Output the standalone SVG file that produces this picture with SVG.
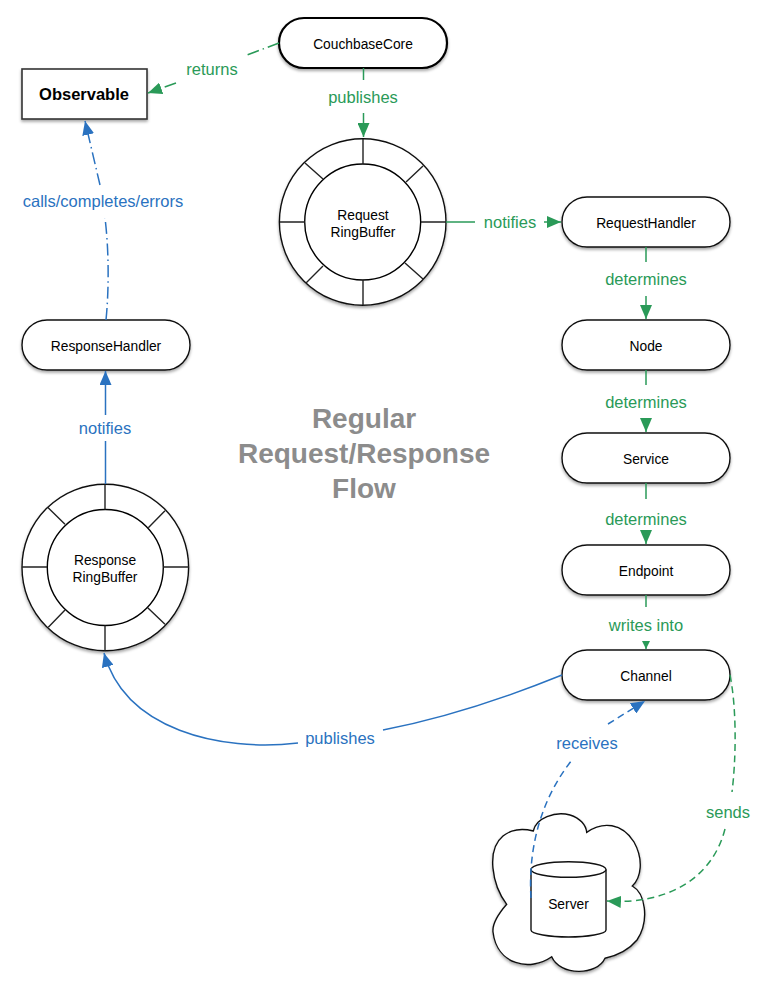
<svg xmlns="http://www.w3.org/2000/svg" width="772" height="1002" viewBox="0 0 772 1002">
<style>
text{font-family:"Liberation Sans",Arial,sans-serif;text-anchor:middle}
.n{fill:#fff;stroke:#111;stroke-width:1.4;filter:url(#sh)}
.l{fill:none;stroke:#222;stroke-width:1.4}
.t{font-size:13.8px;fill:#000}
.lb{font-size:16.5px}
.g{fill:#2a9a58}.b{fill:#2a72c0}
.cg{fill:none;stroke:#2a9a58;stroke-width:1.5}
.cb{fill:none;stroke:#2a72c0;stroke-width:1.5}
.dd{stroke-dasharray:12 4 1.5 4}
.da{stroke-dasharray:7 4.500}
</style>
<defs>
<filter id="sh" x="-10%" y="-10%" width="120%" height="125%"><feDropShadow dx="0" dy="2" stdDeviation="1.5" flood-color="#000" flood-opacity=".35"/></filter>
<marker id="ag" markerUnits="userSpaceOnUse" viewBox="0 0 14 12" markerWidth="14" markerHeight="12" refX="14" refY="6" orient="auto"><path d="M0 0L14 6L0 12z" fill="#2a9a58"/></marker>
<marker id="ab" markerUnits="userSpaceOnUse" viewBox="0 0 14 12" markerWidth="14" markerHeight="12" refX="14" refY="6" orient="auto"><path d="M0 0L14 6L0 12z" fill="#2a72c0"/></marker>
<marker id="as" markerUnits="userSpaceOnUse" viewBox="0 0 8 8" markerWidth="8" markerHeight="8" refX="8" refY="4" orient="auto"><path d="M0 0L8 4L0 8z" fill="#2a9a58"/></marker>
</defs>

<g id="edge-labels">
<text class="lb g" x="212" y="75">returns</text>
<text class="lb g" x="363" y="103">publishes</text>
<text class="lb b" x="103" y="207">calls/completes/errors</text>
<text class="lb g" x="510" y="228">notifies</text>
<text class="lb g" x="646" y="285">determines</text>
<text class="lb g" x="646" y="408">determines</text>
<text class="lb g" x="646" y="525">determines</text>
<text class="lb g" x="646" y="631">writes into</text>
<text class="lb g" x="728" y="818">sends</text>
<text class="lb b" x="587" y="749">receives</text>
<text class="lb b" x="340" y="744">publishes</text>
<text class="lb b" x="105" y="434">notifies</text>
</g>

<g id="title" font-weight="bold" font-size="28" fill="#8c8c8c">
<text x="364" y="428">Regular</text>
<text x="364" y="463">Request/Response</text>
<text x="364" y="498">Flow</text>
</g>

<g id="observable">
<rect class="n" x="22" y="69" width="125" height="50" style="stroke:#333;stroke-width:1.600"/>
<text x="84" y="100" font-size="16.500" font-weight="bold">Observable</text>
</g>
<g id="couchbasecore">
<rect class="n" x="279" y="18" width="168" height="50" rx="25" style="stroke:#000;stroke-width:2.200"/>
<text class="t" x="363" y="49">CouchbaseCore</text>
</g>
<g id="request-ringbuffer">
<circle class="n" cx="362.700" cy="222" r="83.300"/>
<circle class="l" cx="362.700" cy="222" r="58" style="stroke:#000"/>
<path class="l" d="M363 139V164M363 280V305M280 222H305M421 222H446M305 163L323 179M423 166L406 182M306 283L323 266M423 279L405 263"/>
<text class="t" x="363" y="220">Request</text>
<text class="t" x="363" y="237">RingBuffer</text>
</g>
<g id="requesthandler">
<rect class="n" x="562" y="197" width="168" height="50" rx="25"/>
<text class="t" x="646" y="228">RequestHandler</text>
</g>
<g id="node">
<rect class="n" x="562" y="320" width="168" height="50" rx="25"/>
<text class="t" x="646" y="351">Node</text>
</g>
<g id="service">
<rect class="n" x="562" y="433" width="168" height="50" rx="25"/>
<text class="t" x="646" y="464">Service</text>
</g>
<g id="endpoint">
<rect class="n" x="562" y="545" width="168" height="50" rx="25"/>
<text class="t" x="646" y="576">Endpoint</text>
</g>
<g id="channel">
<rect class="n" x="562" y="650" width="168" height="50" rx="25"/>
<text class="t" x="646" y="681">Channel</text>
</g>
<g id="responsehandler">
<rect class="n" x="22" y="320" width="168" height="50" rx="25"/>
<text class="t" x="106" y="351">ResponseHandler</text>
</g>
<g id="response-ringbuffer">
<circle class="n" cx="105.300" cy="567.500" r="83.300"/>
<circle class="l" cx="105.300" cy="567.500" r="58" style="stroke:#000"/>
<path class="l" d="M105 484.500V509.500M105 625.500V650.500M22 567H47M163 567H189M47.700 507.300L65 524.300M165 510.700L148.300 527.700M48.300 627.300L65 610M165 624.300L147.700 607.700"/>
<text class="t" x="105" y="565">Response</text>
<text class="t" x="105" y="582">RingBuffer</text>
</g>
<g id="server">
<path class="n" d="M506.700 904.300C492 885 486 850 503 836C513 828 525 829 533.300 831C536 818 555 811 570 815C580 818 586 825 586.700 832.300C603 821 622 823 634 842C644 860 641 878 632.300 886C645 893 650 920 637 940C627 952 615 956 605 958.300C597 976 560 976 551.700 956.700C530 972 497 965 493 932C492 922 500 912 506.700 904.300z"/>
<path class="n" style="filter:none" d="M531 869.500V930C531 934 550 937 568.500 937C587 937 606 934 606 930V869.500"/>
<ellipse class="n" style="filter:none" cx="568.500" cy="869.500" rx="37.500" ry="7.800"/>
<text class="t" x="568.500" y="909">Server</text>
</g>

<g id="connectors">
<path class="cg dd" d="M279 43L247 55"/>
<path class="cg dd" d="M176 83L148 93" marker-end="url(#ag)"/>
<path class="cg" d="M363.500 68V80"/>
<path class="cg" d="M363.500 113V137" marker-end="url(#ag)"/>
<path class="cg" d="M446 222H475"/>
<path class="cg" d="M544 222H561" marker-end="url(#ag)"/>
<path class="cg" d="M646 247V262"/>
<path class="cg" d="M646 296V319" marker-end="url(#ag)"/>
<path class="cg" d="M646 370V385"/>
<path class="cg" d="M646 419V432" marker-end="url(#ag)"/>
<path class="cg" d="M646 483V499"/>
<path class="cg" d="M646 532V544" marker-end="url(#ag)"/>
<path class="cg" d="M646 595V607"/>
<path class="cg" d="M646 641V649" marker-end="url(#as)"/>
<path class="cg da" d="M730 675C737 710 736 760 732 792"/>
<path class="cg da" d="M725 829C712 880 665 905 607 901" marker-end="url(#ag)"/>
<path class="cb da" d="M531 898C528 850 540 800 572 760"/>
<path class="cb da" d="M608 724L645 701" marker-end="url(#ab)"/>
<path class="cb" d="M562 675C520 692 450 717 383 730"/>
<path class="cb" d="M298 743C220 752 125 730 104 653" marker-end="url(#ab)"/>
<path class="cb" d="M105.500 484V441"/>
<path class="cb" d="M105.500 415V371" marker-end="url(#ab)"/>
<path class="cb dd" d="M106 320C109 290 109 250 105 218"/>
<path class="cb dd" d="M100 185L85 121" marker-end="url(#ab)"/>
</g>
</svg>
